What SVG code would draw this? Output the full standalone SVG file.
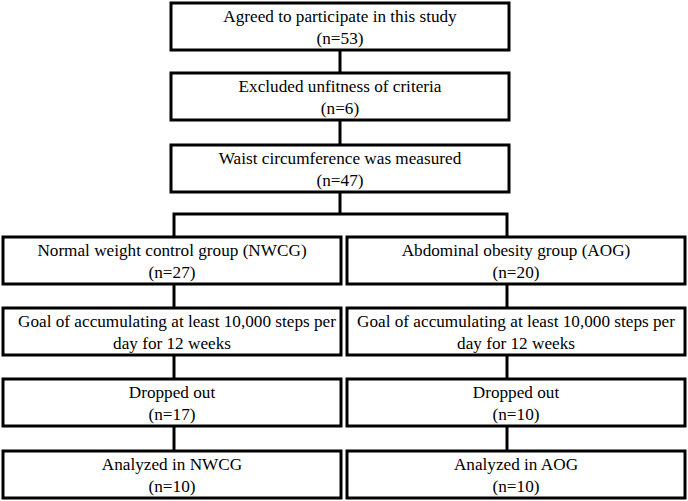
<svg xmlns="http://www.w3.org/2000/svg" width="688" height="501" viewBox="0 0 688 501">
<style>
.b{fill:#fff;stroke:#000;stroke-width:3}
.c{stroke:#000;stroke-width:3;fill:none}
</style>
<rect width="688" height="501" fill="#fff"/>
<g id="connectors">
<line class="c" x1="340" y1="50" x2="340" y2="72"/>
<line class="c" x1="340" y1="120" x2="340" y2="144"/>
<line class="c" x1="340" y1="192" x2="340" y2="214"/>
<polyline class="c" points="174,236 174,214 507,214 507,236"/>
<line class="c" x1="174" y1="284" x2="174" y2="307"/>
<line class="c" x1="507" y1="284" x2="507" y2="307"/>
<line class="c" x1="174" y1="355" x2="174" y2="378"/>
<line class="c" x1="507" y1="355" x2="507" y2="378"/>
<line class="c" x1="174" y1="426" x2="174" y2="450"/>
<line class="c" x1="507" y1="426" x2="507" y2="450"/>
</g>
<g font-family="Liberation Serif, Times New Roman, serif" font-size="17.2" text-anchor="middle" fill="#000">
<g id="n1"><rect class="b" x="171" y="3" width="338" height="47"/><text x="340" y="22">Agreed to participate in this study</text><text x="340" y="44">(n=53)</text></g>
<g id="n2"><rect class="b" x="171" y="73" width="338" height="47"/><text x="340" y="92">Excluded unfitness of criteria</text><text x="340" y="114">(n=6)</text></g>
<g id="n3"><rect class="b" x="171" y="145" width="338" height="47"/><text x="340" y="164">Waist circumference was measured</text><text x="340" y="186">(n=47)</text></g>
<g id="n4"><rect class="b" x="3" y="237" width="338" height="47"/><text x="172" y="256">Normal weight control group (NWCG)</text><text x="172" y="278">(n=27)</text></g>
<g id="n5"><rect class="b" x="347" y="237" width="338" height="47"/><text x="516" y="256">Abdominal obesity group (AOG)</text><text x="516" y="278">(n=20)</text></g>
<g id="n6"><rect class="b" x="3" y="308" width="338" height="47"/><text x="177" y="327">Goal of accumulating at least 10,000 steps per</text><text x="172" y="349">day for 12 weeks</text></g>
<g id="n7"><rect class="b" x="347" y="308" width="338" height="47"/><text x="516" y="327">Goal of accumulating at least 10,000 steps per</text><text x="516" y="349">day for 12 weeks</text></g>
<g id="n8"><rect class="b" x="3" y="379" width="338" height="47"/><text x="172" y="398">Dropped out</text><text x="172" y="420">(n=17)</text></g>
<g id="n9"><rect class="b" x="347" y="379" width="338" height="47"/><text x="516" y="398">Dropped out</text><text x="516" y="420">(n=10)</text></g>
<g id="n10"><rect class="b" x="3" y="451" width="338" height="47"/><text x="172" y="470">Analyzed in NWCG</text><text x="172" y="492">(n=10)</text></g>
<g id="n11"><rect class="b" x="347" y="451" width="338" height="47"/><text x="516" y="470">Analyzed in AOG</text><text x="516" y="492">(n=10)</text></g>
</g>
</svg>
